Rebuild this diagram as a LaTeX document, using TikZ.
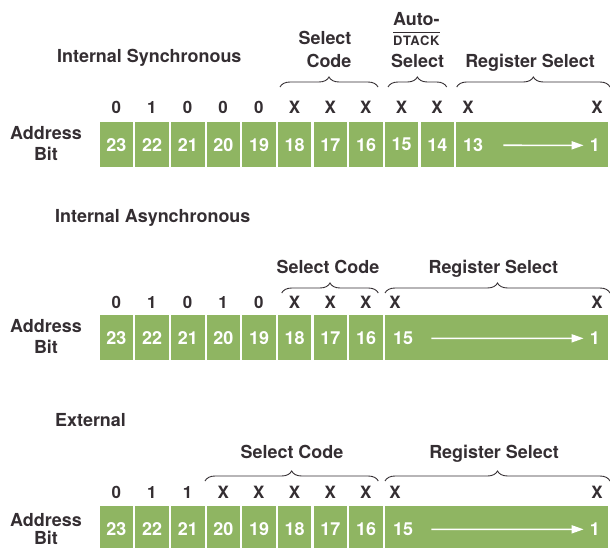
\documentclass[tikz,border=0pt]{standalone}
\usepackage{fontspec}
\setmainfont{TeX Gyre Heros}
\usetikzlibrary{arrows.meta,decorations.pathreplacing,positioning}
\definecolor{cellgreen}{RGB}{143,181,98}
\definecolor{inkgray}{RGB}{52,46,50}
\tikzset{
  bitcell/.style={fill=cellgreen, minimum height=45bp, minimum width=33.5bp, inner sep=0pt,
    anchor=north west, text=white, font=\fontsize{18}{18}\selectfont\bfseries},
  bitnum/.style={inner sep=0pt, text=white, font=\fontsize{18}{18}\selectfont\bfseries},
  bitval/.style={inner sep=0pt, anchor=base, text=inkgray, font=\fontsize{17}{17}\selectfont\bfseries},
  heading/.style={inner sep=0pt, anchor=base west, text=inkgray, font=\fontsize{18}{18}\selectfont\bfseries},
  grouptext/.style={inner sep=0pt, anchor=base, text=inkgray, font=\fontsize{18}{18}\selectfont\bfseries},
  addrtext/.style={inner sep=0pt, anchor=base, text=inkgray, font=\fontsize{18}{18}\selectfont\bfseries},
  brace/.style={draw=inkgray, line width=0.9bp, decorate, decoration={brace, amplitude=10bp}},
  flow/.style={draw=white, line width=1.6bp, -{Triangle[length=12bp,width=8bp]}}
}
\begin{document}
\begin{tikzpicture}[x=1bp,y=-1bp]
\useasboundingbox (0,0) rectangle (610,548);
\clip (0,0) rectangle (610,548);
% internal synchronous
\def\y{122}
\node[heading] (sync) at (57, 63) {Internal Synchronous};
\node[addrtext] (saddr) at (46, \y + 18) {Address};
\node[addrtext] (sbit) at (46, \y + 39) {Bit};
\foreach \b/\v in {23/0,22/1,21/0,20/0,19/0,18/X,17/X,16/X,15/X,14/X} {
  \node[bitcell] (s\b) at ({99.5 + (23-\b)*35.65}, \y) {\b};
  \node[bitval] (sv\b) at ({99.5 + (23-\b)*35.65 + 16.75}, \y - 8) {\v};
}
\node[bitcell, minimum width=152bp] (s13) at (456, \y) {};
\node[bitnum, anchor=base west] (sn13) at (463, \y + 29.7) {13};
\node[bitnum, anchor=base east] (sn1) at (600, \y + 29.7) {1};
\draw[flow] ([xshift=20bp]sn13.east) -- ([xshift=-6bp]sn1.west);
\node[bitval] (sv13) at (468, \y - 8) {X};
\node[bitval] (sv1) at (597, \y - 8) {X};
\node[grouptext] (scode1) at (325, 45) {Select};
\node[grouptext] (scode2) at (329, 68) {Code};
\node[grouptext, anchor=base west] (sauto1) at (393, 26) {Auto-};
\node[grouptext, anchor=base west, font=\fontsize{13}{13}\selectfont\bfseries\addfontfeature{LetterSpace=5}] (sauto2) at (393, 45.7) {DTACK};
\draw[inkgray, line width=0.9bp] ([yshift=3.5bp]sauto2.north west) -- ([yshift=3.5bp]sauto2.north east);
\node[grouptext, anchor=base west] (sauto3) at (391, 68) {Select};
\node[grouptext] (sreg) at (530, 68) {Register Select};
\draw[brace] (280, \y - 35) -- (378, \y - 35);
\draw[brace] (388, \y - 35) -- (446.7, \y - 35);
\draw[brace] (456.7, \y - 35) -- (610, \y - 35);
% internal asynchronous
\def\y{315}
\node[heading] (async) at (55, 222.7) {Internal Asynchronous};
\node[addrtext] (aaddr) at (46, \y + 17.3) {Address};
\node[addrtext] (abit) at (46, \y + 38.3) {Bit};
\foreach \b/\v in {23/0,22/1,21/0,20/1,19/0,18/X,17/X,16/X} {
  \node[bitcell] (a\b) at ({99.5 + (23-\b)*35.65}, \y) {\b};
  \node[bitval] (av\b) at ({99.5 + (23-\b)*35.65 + 16.75}, \y - 7) {\v};
}
\node[bitcell, minimum width=223.3bp] (a15) at (384.7, \y) {};
\node[bitnum, anchor=base west] (an15) at (393, \y + 29.7) {15};
\node[bitnum, anchor=base east] (an1) at (600, \y + 29.7) {1};
\draw[flow] ([xshift=18bp]an15.east) -- ([xshift=-6bp]an1.west);
\node[bitval] (av15) at (395, \y - 7) {X};
\node[bitval] (av1) at (597, \y - 7) {X};
\node[grouptext] (acode) at (328, 273.3) {Select Code};
\node[grouptext] (areg) at (493.3, 273.3) {Register Select};
\draw[brace] (281.7, \y - 22) -- (378.3, \y - 22);
\draw[brace] (385, \y - 22) -- (610, \y - 22);
% external
\def\y{506}
\node[heading] (ext) at (55, 426) {External};
\node[addrtext] (eaddr) at (46, \y + 20) {Address};
\node[addrtext] (ebit) at (46, \y + 38) {Bit};
\foreach \b/\v in {23/0,22/1,21/1,20/X,19/X,18/X,17/X,16/X} {
  \node[bitcell] (e\b) at ({99.5 + (23-\b)*35.65}, \y) {\b};
  \node[bitval] (ev\b) at ({99.5 + (23-\b)*35.65 + 16.75}, \y - 7.5) {\v};
}
\node[bitcell, minimum width=223.3bp] (e15) at (384.7, \y) {};
\node[bitnum, anchor=base west] (en15) at (393, \y + 29.7) {15};
\node[bitnum, anchor=base east] (en1) at (600, \y + 29.7) {1};
\draw[flow] ([xshift=18bp]en15.east) -- ([xshift=-6bp]en1.west);
\node[bitval] (ev15) at (395, \y - 7.5) {X};
\node[bitval] (ev1) at (597, \y - 7.5) {X};
\node[grouptext] (ecode) at (292, 458.3) {Select Code};
\node[grouptext] (ereg) at (494, 458.3) {Register Select};
\draw[brace] (205, \y - 25) -- (378.3, \y - 25);
\draw[brace] (385, \y - 25) -- (610, \y - 25);
\end{tikzpicture}
\end{document}
